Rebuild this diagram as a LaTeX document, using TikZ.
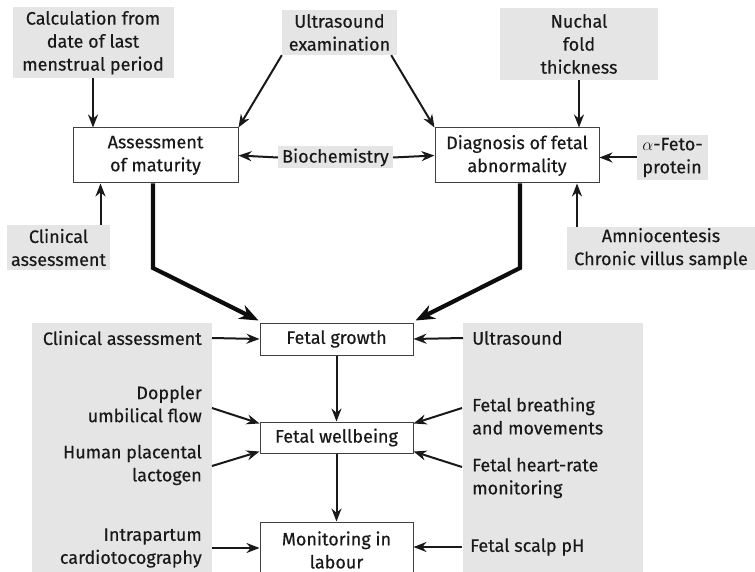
\documentclass[tikz,border=0pt]{standalone}
\usepackage{fontspec}
\setmainfont{Fira Sans}[FakeBold=0.35]
\usetikzlibrary{arrows.meta}
\begin{document}
\begin{tikzpicture}[x=1pt,y=-1pt,
  lbl/.style={font=\fontsize{18}{23}\selectfont, align=center, inner sep=0pt, text=black!90},
  gbox/.style={lbl, fill=black!10},
  wbox/.style={lbl, draw=black!75, line width=1pt, fill=white},
  panel/.style={fill=black!10, draw=none},
  arr/.style={-{Stealth[length=13pt,width=10pt]}, line width=2pt, black!90},
  bigarr/.style={-{Stealth[length=19pt,width=15pt]}, line width=4.2pt, black!95, line join=miter}]
\useasboundingbox (0,0) rectangle (755,572);
\clip (0,0) rectangle (755,572);

% side panels
\fill[panel] (32,323) rectangle (212,580);
\fill[panel] (463,323) rectangle (643,580);

% top gray boxes
\node[gbox, minimum width=161, minimum height=71] (calc) at (93,42.5) {Calculation from\\date of last\\menstrual period};
\node[gbox, minimum width=103, minimum height=45] (clin1) at (58.5,247.5) {Clinical\\assessment};
\node[gbox, minimum width=115, minimum height=45] (us) at (339.5,32.5) {Ultrasound\\examination};
\node[gbox, minimum width=115, minimum height=22] (bio) at (335.5,157.5) {Biochemistry};
\node[gbox, minimum width=158, minimum height=72] (nuchal) at (579,44) {Nuchal\\fold\\thickness};
\node[gbox, minimum width=71, minimum height=45, align=left] (afp) at (672.5,157.5) {$\alpha$-Feto-\\protein};
\node[gbox, minimum width=188, minimum height=43] (amnio) at (661,248.5) {Amniocentesis\\Chronic villus sample};

% white boxes
\node[wbox, minimum width=165, minimum height=55] (mat) at (155.5,155.5) {Assessment\\of maturity};
\node[wbox, minimum width=164, minimum height=55] (diag) at (517,155.5) {Diagnosis of fetal\\abnormality};
\node[wbox, minimum width=153, minimum height=32] (growth) at (336.5,339) {Fetal growth};
\node[wbox, minimum width=153, minimum height=31] (well) at (336.5,437.5) {Fetal wellbeing};
\node[wbox, minimum width=153, minimum height=56] (mon) at (336.5,550) {Monitoring in\\labour};

% left panel texts
\node[lbl, anchor=east, align=right] (clin2) at (202,338) {Clinical assessment};
\node[lbl, anchor=east, align=right] (dop) at (202,404) {Doppler\\umbilical flow};
\node[lbl, anchor=east, align=right] (hpl) at (202,465) {Human placental\\lactogen};
\node[lbl, anchor=east, align=right] (ctg) at (202,548) {Intrapartum\\cardiotocography};

% right panel texts
\node[lbl, anchor=west, align=left] (us2) at (472,338) {Ultrasound};
\node[lbl, anchor=west, align=left] (breath) at (472,416) {Fetal breathing\\and movements};
\node[lbl, anchor=west, align=left] (fhr) at (472,478) {Fetal heart-rate\\monitoring};
\node[lbl, anchor=west, align=left] (ph) at (470,547) {Fetal scalp pH};

% top arrows
\draw[arr] (calc) -- (calc |- mat.north);
\draw[arr] ([xshift=42]clin1.north) -- ([xshift=42]clin1.north |- mat.south);
\draw[arr] (us.south west) -- (mat.north east);
\draw[arr] ([xshift=-6]us.south east) -- (diag.north west);
\draw[arr] (bio.west) -- (mat.east);
\draw[arr] (bio.east) -- (diag.east -| diag.west);
\draw[arr] (nuchal) -- (nuchal |- diag.north);
\draw[arr] (afp.west) -- (afp.west -| diag.east);
\draw[arr] ([xshift=-84]amnio.north) -- ([xshift=-84]amnio.north |- diag.south);

% thick arrows
\coordinate (mbend) at (153,268);
\coordinate (dbend) at (520,268);
\draw[bigarr] (mat.south -| mbend) -- (mbend) -- ([shift={(-1,-2)}]growth.north west);
\draw[bigarr] (diag.south -| dbend) -- (dbend) -- ([shift={(2,-2)}]growth.north east);

% central column
\draw[arr] (growth) -- (well);
\draw[arr] (well) -- (mon);

% left arrows
\draw[arr] ([xshift=10]clin2.east) -- (growth.west);
\draw[arr] ([shift={(10,4)}]dop.east) -- ([yshift=-2]well.north west);
\draw[arr] ([shift={(10,1)}]hpl.east) -- ([yshift=2]well.south west);
\draw[arr] ([xshift=10]ctg.east) -- (ctg.east -| mon.west);

% right arrows
\draw[arr] ([xshift=-9]us2.west) -- (growth.east);
\draw[arr] ([shift={(-10,-8)}]breath.west) -- ([yshift=-2]well.north east);
\draw[arr] ([shift={(-10,-11)}]fhr.west) -- ([yshift=2]well.south east);
\draw[arr] ([xshift=-8]ph.west) -- (ph.west -| mon.east);
\end{tikzpicture}
\end{document}
